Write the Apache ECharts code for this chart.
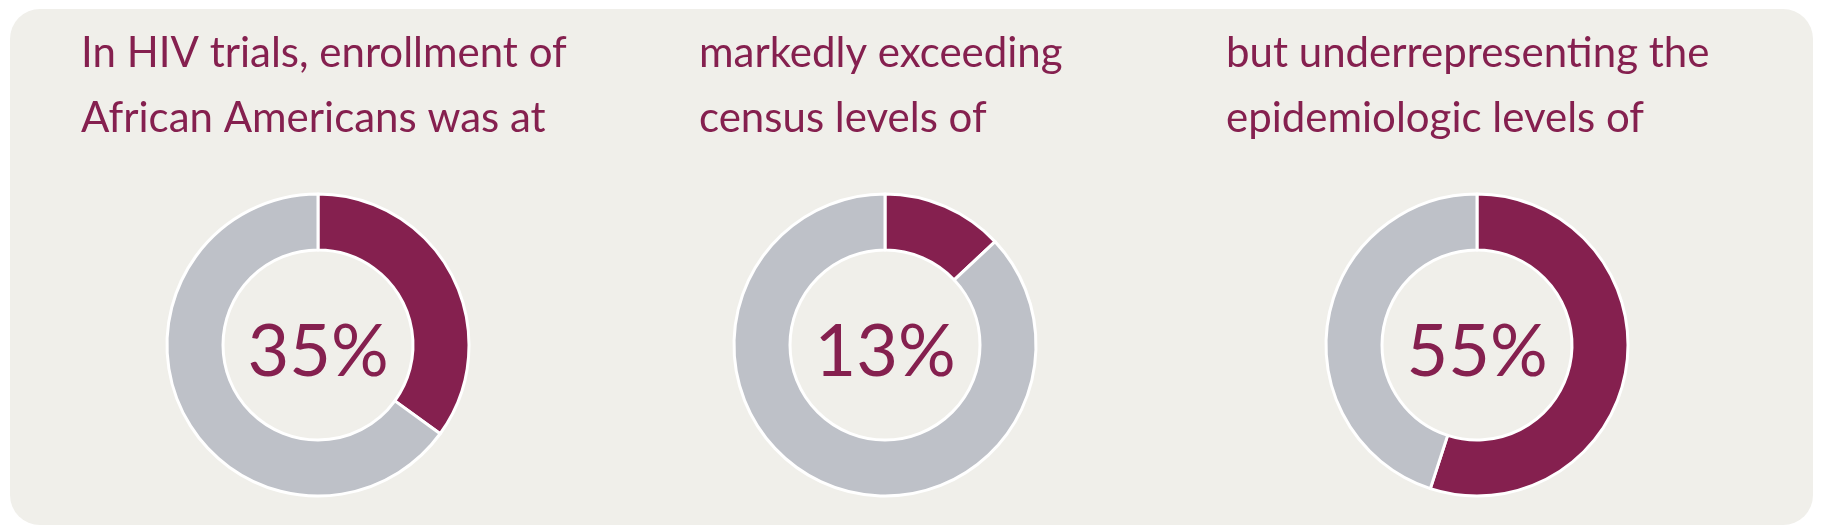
<!DOCTYPE html>
<html>
<head>
<meta charset="utf-8">
<script src="https://cdn.jsdelivr.net/npm/echarts@6/dist/echarts.min.js"></script>
<style>
html,body{margin:0;padding:0;background:#ffffff;}
#chart{width:1822px;height:532px;}
</style>
</head>
<body>
<div id="chart"></div>
<script>
const captions = [
  "In HIV trials, enrollment of\nAfrican Americans was at",
  "markedly exceeding\ncensus levels of",
  "but underrepresenting the\nepidemiologic levels of"
];
const shares = [35, 13, 55];
const sliceNames = ["African Americans", "Others"];

const PURPLE = "#85204F";
const GRAY = "#BEC1C8";
const BG = "#F0EFEA";

const centersX = [318, 885, 1477];
const captionX = [81, 699, 1226];

const chart = echarts.init(document.getElementById('chart'), null, {renderer: 'canvas'});

const series = shares.map((v, i) => ({
  type: 'pie',
  center: [centersX[i], 345],
  radius: [95, 151],
  startAngle: 90,
  clockwise: true,
  silent: true,
  animation: false,
  itemStyle: {borderColor: '#ffffff', borderWidth: 3},
  labelLine: {show: false},
  data: [
    {name: sliceNames[0], value: v, itemStyle: {color: PURPLE},
     label: {show: true, position: 'center', formatter: '{c}%', color: PURPLE,
             fontFamily: 'Lato', fontWeight: 'normal', fontSize: 72, offset: [0, 8]}},
    {name: sliceNames[1], value: 100 - v, itemStyle: {color: GRAY}, label: {show: false}}
  ]
}));

const titles = captions.map((t, i) => ({
  text: t,
  left: captionX[i],
  top: 21,
  padding: 0,
  textStyle: {color: PURPLE, fontFamily: 'Lato', fontWeight: 'normal', fontSize: 42, lineHeight: 65}
}));

chart.setOption({
  backgroundColor: '#ffffff',
  animation: false,
  graphic: [{
    type: 'rect', z: -10, silent: true,
    shape: {x: 10, y: 9, width: 1803, height: 516, r: 30},
    style: {fill: BG}
  }],
  title: titles,
  series: series
});
</script>
</body>
</html>
